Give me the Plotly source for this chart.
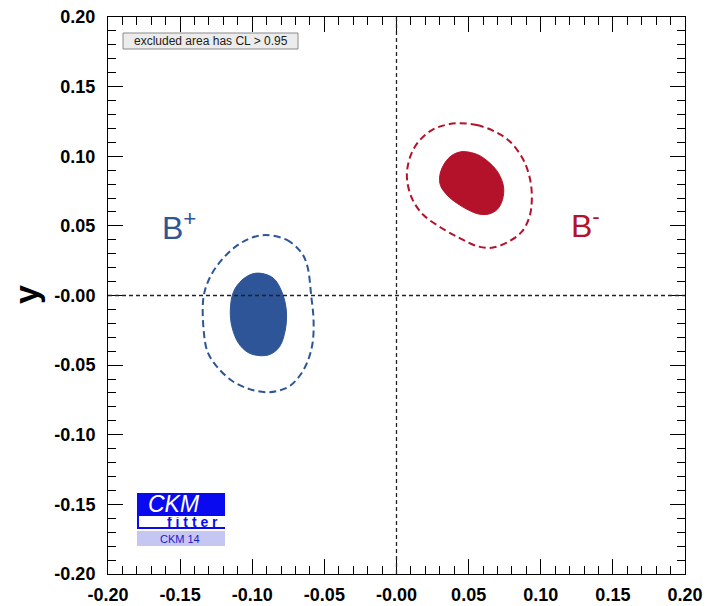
import plotly.graph_objects as go

# ---- data -------------------------------------------------------------
tick_vals = [-0.20, -0.15, -0.10, -0.05, 0.0, 0.05, 0.10, 0.15, 0.20]
tick_text = ["-0.20", "-0.15", "-0.10", "-0.05", "-0.00", "0.05", "0.10", "0.15", "0.20"]

# B+ : 95% CL contour (dashed) and 68% CL region (filled)
bplus_95_x = [-0.0910, -0.0760, -0.0656, -0.0617, -0.0591, -0.0575, -0.0582, -0.0617,
              -0.0667, -0.0737, -0.0818, -0.0898, -0.1014, -0.1141, -0.1245, -0.1310,
              -0.1337, -0.1337, -0.1291, -0.1222, -0.1130, -0.1026]
bplus_95_y = [0.0434, 0.0399, 0.0303, 0.0207, -0.0004, -0.0176, -0.0343, -0.0475,
              -0.0571, -0.0648, -0.0684, -0.0695, -0.0674, -0.0612, -0.0511, -0.0404,
              -0.0248, -0.0004, 0.0135, 0.0243, 0.0339, 0.0406]
bplus_68_x = [-0.0938, -0.0853, -0.0795, -0.0764, -0.0771, -0.0811, -0.0875, -0.0945,
              -0.1026, -0.1095, -0.1141, -0.1152, -0.1130, -0.1071, -0.1002]
bplus_68_y = [0.0159, 0.0124, 0.0027, -0.0104, -0.0248, -0.0368, -0.0422, -0.0432,
              -0.0411, -0.0343, -0.0224, -0.0104, 0.0027, 0.0111, 0.0154]

# B- : 95% CL contour (dashed) and 68% CL region (filled)
bminus_95_x = [0.0430, 0.0557, 0.0684, 0.0788, 0.0880, 0.0927, 0.0938, 0.0922, 0.0869,
               0.0776, 0.0661, 0.0557, 0.0441, 0.0315, 0.0187, 0.0107, 0.0072, 0.0095,
               0.0152, 0.0245, 0.0337]
bminus_95_y = [0.1237, 0.1224, 0.1176, 0.1104, 0.0973, 0.0829, 0.0686, 0.0566, 0.0458,
               0.0386, 0.0343, 0.0355, 0.0411, 0.0483, 0.0578, 0.0698, 0.0853, 0.0997,
               0.1104, 0.1188, 0.1224]
bminus_68_x = [0.0476, 0.0568, 0.0649, 0.0707, 0.0742, 0.0735, 0.0700, 0.0640, 0.0570,
               0.0499, 0.0420, 0.0350, 0.0305, 0.0300, 0.0325, 0.0370, 0.0420]
bminus_68_y = [0.1033, 0.1009, 0.0949, 0.0878, 0.0781, 0.0690, 0.0620, 0.0585, 0.0585,
               0.0614, 0.0662, 0.0722, 0.0790, 0.0860, 0.0935, 0.0995, 0.1025]

# ---- styling ----------------------------------------------------------
W, H = 708, 606
ML, MR, MT, MB = 108, 23, 17, 32
PW, PH = W - ML - MR, H - MT - MB

BLUE = "#2e5597"
RED = "#b4122a"
LOGO_BLUE = "#0a0af0"
FONT = "Liberation Sans"


def px(xpix):
    return (xpix - ML) / PW


def py(ypix):
    return (H - MB - ypix) / PH


def closed(xs, ys):
    return xs + xs[:1], ys + ys[:1]


fig = go.Figure()

for (xs, ys, col) in [(bplus_68_x, bplus_68_y, BLUE), (bminus_68_x, bminus_68_y, RED)]:
    cx, cy = closed(xs, ys)
    fig.add_trace(go.Scatter(x=cx, y=cy, mode="lines", fill="toself", fillcolor=col,
                             line=dict(color=col, width=1, shape="spline", smoothing=1.0),
                             hoverinfo="skip", showlegend=False))

for (xs, ys, col) in [(bplus_95_x, bplus_95_y, BLUE), (bminus_95_x, bminus_95_y, RED)]:
    cx, cy = closed(xs, ys)
    fig.add_trace(go.Scatter(x=cx, y=cy, mode="lines",
                             line=dict(color=col, width=2, dash="7px,4px",
                                       shape="spline", smoothing=1.0),
                             hoverinfo="skip", showlegend=False))

axis_common = dict(
    range=[-0.2, 0.2], tickvals=tick_vals, ticktext=tick_text,
    ticks="inside", ticklen=15, tickwidth=1, tickcolor="black",
    minor=dict(ticks="inside", dtick=0.01, ticklen=8, tickwidth=1, tickcolor="black"),
    showline=True, linecolor="black", linewidth=1, mirror="allticks",
    showgrid=False, zeroline=False, automargin=False,
    tickfont=dict(family=FONT, size=18, color="black", weight="bold"),
    fixedrange=True,
)
fig.update_xaxes(**axis_common, ticklabelstandoff=4)
fig.update_yaxes(**axis_common, ticklabelstandoff=8)

# dashed zero lines
for shp in [dict(x0=0, x1=0, y0=-0.2, y1=0.2), dict(x0=-0.2, x1=0.2, y0=0, y1=0)]:
    fig.add_shape(type="line", xref="x", yref="y", **shp,
                  line=dict(color="#222222", width=1.3, dash="4px,3px"))

# "excluded area" box
fig.add_shape(type="rect", xref="paper", yref="paper",
              x0=px(123), x1=px(298), y0=py(49), y1=py(33),
              fillcolor="#ececec", line=dict(color="#8a8a8a", width=1))
fig.add_annotation(xref="paper", yref="paper", x=px(210.5), y=py(41),
                   text="excluded area has CL > 0.95", showarrow=False,
                   font=dict(family=FONT, size=12, color="#222222"),
                   xanchor="center", yanchor="middle")

# CKMfitter logo
fig.add_shape(type="rect", xref="paper", yref="paper",
              x0=px(137), x1=px(225), y0=py(529), y1=py(493),
              fillcolor=LOGO_BLUE, line=dict(width=0))
fig.add_shape(type="rect", xref="paper", yref="paper",
              x0=px(139), x1=px(225), y0=py(527), y1=py(516),
              fillcolor="white", line=dict(width=0))
fig.add_shape(type="rect", xref="paper", yref="paper",
              x0=px(137), x1=px(225), y0=py(546), y1=py(531),
              fillcolor="#c6c6f2", line=dict(width=0))
fig.add_annotation(xref="paper", yref="paper", x=px(174), y=py(504),
                   text="<i>CKM</i>", showarrow=False,
                   font=dict(family=FONT, size=23, color="white"),
                   xanchor="center", yanchor="middle", height=20, valign="middle")
fig.add_annotation(xref="paper", yref="paper", x=px(192), y=py(522),
                   text="<b>f i t t e r</b>", showarrow=False,
                   font=dict(family=FONT, size=14, color=LOGO_BLUE),
                   xanchor="center", yanchor="middle", height=10, valign="middle")
fig.add_annotation(xref="paper", yref="paper", x=px(180), y=py(539),
                   text="CKM 14", showarrow=False,
                   font=dict(family=FONT, size=11, color="#1a1ad0"),
                   xanchor="center", yanchor="middle")

# B+ / B- labels
fig.add_annotation(x=-0.1640, y=0.050, text="B<sup>+</sup>", showarrow=False,
                   font=dict(family=FONT, size=32, color=BLUE),
                   xanchor="left", yanchor="middle")
fig.add_annotation(x=0.1195, y=0.051, text="B<sup>-</sup>", showarrow=False,
                   font=dict(family=FONT, size=32, color=RED),
                   xanchor="left", yanchor="middle")

# y-axis title
fig.add_annotation(xref="paper", yref="paper", x=px(26), y=py(295),
                   text="<b>y</b>", showarrow=False, textangle=-90,
                   font=dict(family=FONT, size=34, color="black"),
                   xanchor="center", yanchor="middle")

fig.update_layout(
    width=W, height=H,
    margin=dict(l=ML, r=MR, t=MT, b=MB),
    plot_bgcolor="white", paper_bgcolor="white",
    showlegend=False,
)

fig.write_html("out.html")
